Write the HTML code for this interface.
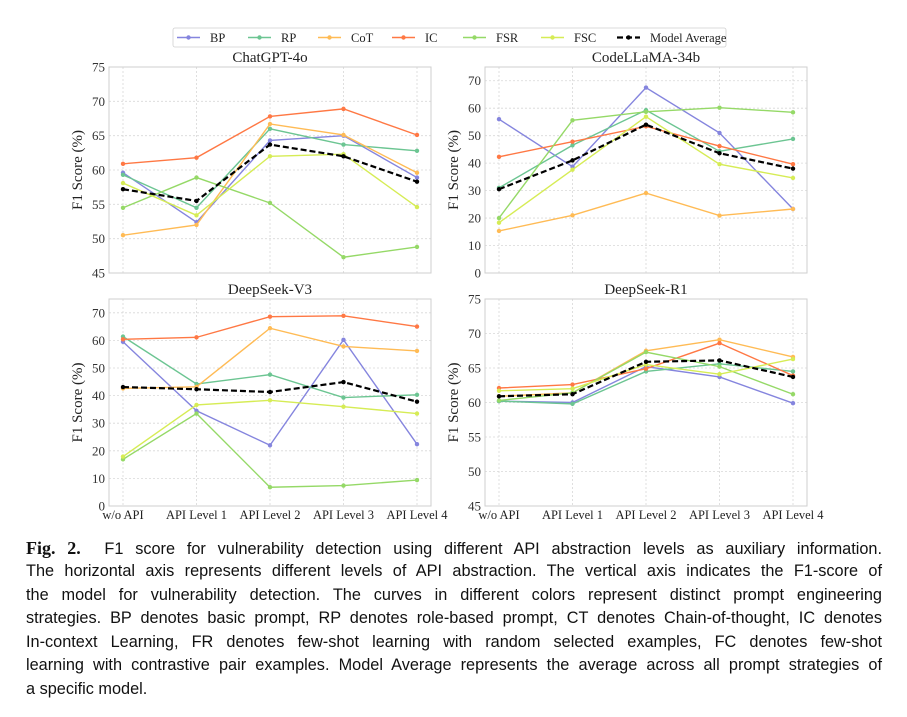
<!DOCTYPE html>
<html><head><meta charset="utf-8">
<style>
body{margin:0;background:#fff;width:907px;height:717px;overflow:hidden;position:relative;font-family:"Liberation Serif",serif}
svg{position:absolute;left:0;top:0}
.cap{position:absolute;left:26px;width:856px;font-family:"Liberation Sans",sans-serif;font-size:16.3px;color:#111;white-space:nowrap;text-align:justify;text-align-last:justify;line-height:20px}
.cap.last{text-align-last:left}
</style></head><body>
<svg id="fig" width="907" height="530"></svg>
<div class="cap" style="top:538px"><b style="font-family:'Liberation Serif',serif;font-size:18px">Fig. 2.</b>&nbsp; F1 score for vulnerability detection using different API abstraction levels as auxiliary information.</div>
<div class="cap" style="top:561px">The horizontal axis represents different levels of API abstraction. The vertical axis indicates the F1-score of</div>
<div class="cap" style="top:584.5px">the model for vulnerability detection. The curves in different colors represent distinct prompt engineering</div>
<div class="cap" style="top:608px">strategies. BP denotes basic prompt, RP denotes role-based prompt, CT denotes Chain-of-thought, IC denotes</div>
<div class="cap" style="top:631.5px">In-context Learning, FR denotes few-shot learning with random selected examples, FC denotes few-shot</div>
<div class="cap" style="top:655px">learning with contrastive pair examples. Model Average represents the average across all prompt strategies of</div>
<div class="cap last" style="top:678.5px">a specific model.</div>
<script>
const categories=["w/o API","API Level 1","API Level 2","API Level 3","API Level 4"];
const seriesNames=["BP","RP","CoT","IC","FSR","FSC","Model Average"];
const seriesColors=["#8585de","#6cc592","#ffbb55","#ff7844","#95d967","#d6ec55","#000"];
const gptBP=[59.6,52.4,64.3,65.0,58.9];
const gptRP=[59.3,54.5,66.0,63.7,62.8];
const gptCoT=[50.5,52.0,66.7,65.1,59.6];
const gptIC=[60.9,61.8,67.8,68.9,65.1];
const gptFSR=[54.5,58.9,55.2,47.3,48.8];
const gptFSC=[58.1,53.4,62.0,62.3,54.6];
const gptAvg=[57.2,55.5,63.7,62.0,58.3];
const llamaBP=[56,38.7,67.5,51,23.3];
const llamaRP=[31,46.5,59.3,44.3,48.8];
const llamaCoT=[15.3,21,29.1,20.9,23.3];
const llamaIC=[42.3,47.8,53.4,46.2,39.6];
const llamaFSR=[20,55.6,58.7,60.2,58.5];
const llamaFSC=[18.3,37.6,56.9,39.6,34.6];
const llamaAvg=[30.5,41,54,43.6,38];
const v3BP=[59.5,34.5,22,60.2,22.4];
const v3RP=[61.4,44.2,47.6,39.3,40.3];
const v3CoT=[42.6,43.2,64.4,57.8,56.2];
const v3IC=[60.4,61.1,68.6,68.9,65.0];
const v3FSR=[16.9,33.5,6.8,7.4,9.4];
const v3FSC=[17.9,36.6,38.3,36.0,33.5];
const v3Avg=[43.1,42.3,41.3,44.9,37.8];
const r1BP=[60.2,60.0,65.2,63.7,59.9];
const r1RP=[60.2,59.8,64.5,65.6,64.5];
const r1CoT=[60.9,61.4,67.5,69.1,66.6];
const r1IC=[62.1,62.6,64.9,68.6,63.9];
const r1FSR=[60.3,61.4,67.3,65.2,61.2];
const r1FSC=[61.7,62.0,65.5,64.1,66.3];
const r1Avg=[60.9,61.2,65.9,66.1,63.7];
const gptTicks=[45,50,55,60,65,70,75];
const llamaTicks=[0,10,20,30,40,50,60,70];
const v3Ticks=[0,10,20,30,40,50,60,70];
const r1Ticks=[45,50,55,60,65,70,75];

const NS="http://www.w3.org/2000/svg";
const svg=document.getElementById('fig');
function el(tag,attrs,parent,text){const e=document.createElementNS(NS,tag);for(const k in attrs)e.setAttribute(k,attrs[k]);if(text!==undefined)e.textContent=text;(parent||svg).appendChild(e);return e;}

const panels=[
 {id:"chatgpt-4o",title:"ChatGPT-4o",x0:109,x1:431,y0:67,y1:273,min:45,max:75,ticks:gptTicks,data:[gptBP,gptRP,gptCoT,gptIC,gptFSR,gptFSC,gptAvg],xl:false},
 {id:"codellama-34b",title:"CodeLLaMA-34b",x0:485,x1:807,y0:67,y1:273,min:0,max:75,ticks:llamaTicks,data:[llamaBP,llamaRP,llamaCoT,llamaIC,llamaFSR,llamaFSC,llamaAvg],xl:false},
 {id:"deepseek-v3",title:"DeepSeek-V3",x0:109,x1:431,y0:299,y1:506,min:0,max:75,ticks:v3Ticks,data:[v3BP,v3RP,v3CoT,v3IC,v3FSR,v3FSC,v3Avg],xl:true},
 {id:"deepseek-r1",title:"DeepSeek-R1",x0:485,x1:807,y0:299,y1:506,min:45,max:75,ticks:r1Ticks,data:[r1BP,r1RP,r1CoT,r1IC,r1FSR,r1FSC,r1Avg],xl:true}
];
panels.forEach(p=>{
 const g=el('g',{});
 
 
 const xs=i=>p.x0+14+i*(p.x1-p.x0-28)/(categories.length-1);
 const ys=v=>p.y1-(v-p.min)/(p.max-p.min)*(p.y1-p.y0);
 p.ticks.forEach(t=>{
  const y=ys(t);
  el('line',{x1:p.x0,x2:p.x1,y1:y,y2:y,stroke:'#d8d8d8','stroke-width':0.8,'stroke-dasharray':'2,2'},g);
  const tl=el('text',{x:p.x0-4,y:y+4.5,'text-anchor':'end','font-size':13,fill:'#333'},g,String(t));
  
  
 });
 categories.forEach((c,i)=>{
  const x=xs(i);
  el('line',{x1:x,x2:x,y1:p.y0,y2:p.y1,stroke:'#d8d8d8','stroke-width':0.8,'stroke-dasharray':'2,2'},g);
  if(p.xl){const xt=el('text',{x:x,y:p.y1+13,'text-anchor':'middle','font-size':12.5,fill:'#222'},g,c);
   
   }
 });
 const fr=el('rect',{x:p.x0,y:p.y0,width:p.x1-p.x0,height:p.y1-p.y0,fill:'none',stroke:'#cfcfcf','stroke-width':1},g);
 
 
 const t=el('text',{x:(p.x0+p.x1)/2,y:p.y0-5,'text-anchor':'middle','font-size':15,fill:'#222'},g,p.title);
 
 
 const cy=(p.y0+p.y1)/2;
 const yl=el('text',{x:p.x0-27,y:cy,'text-anchor':'middle','font-size':15,fill:'#222',transform:`rotate(-90 ${p.x0-27} ${cy})`},g,'F1 Score (%)');
 
 
 p.data.forEach((arr,si)=>{
  const avg=si===6;
  const pts=arr.map((v,i)=>xs(i)+','+ys(v)).join(' ');
  const pl=el('polyline',{points:pts,fill:'none',stroke:seriesColors[si],'stroke-width':avg?2.2:1.4,'stroke-dasharray':avg?'6,3':'none'},g);
  
  
  arr.forEach((v,i)=>{
   const c=el('circle',{cx:xs(i),cy:ys(v),r:2.2,fill:seriesColors[si]},g);
   
   
  });
 });
});
const lg=el('g',{});


el('rect',{x:173,y:28,width:553,height:19,fill:'#fff',stroke:'#d0d0d0','stroke-width':0.8,rx:2},lg);
const lx=[177,248,318,392,463,541,617];
seriesNames.forEach((n,i)=>{
 const avg=i===6;
 const e=el('g',{},lg);
 
 
 el('line',{x1:lx[i],x2:lx[i]+23,y1:37.5,y2:37.5,stroke:seriesColors[i],'stroke-width':avg?2.2:1.4,'stroke-dasharray':avg?'6,3':'none'},e);
 el('circle',{cx:lx[i]+11.5,cy:37.5,r:2.2,fill:seriesColors[i]},e);
 el('text',{x:lx[i]+33,y:42,'font-size':12.5,fill:'#222'},e,n);
});
</script>
</body></html>
